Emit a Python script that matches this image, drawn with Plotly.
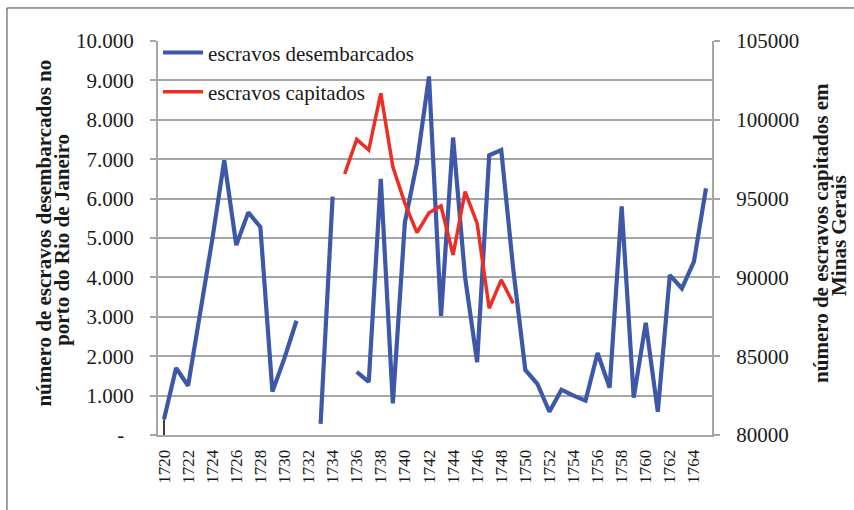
import plotly.graph_objects as go

years = [str(y) for y in range(1720, 1766)]

desembarcados = [400, 1700, 1250, 3100, 4950, 6970, 4820, 5650, 5280, 1100,
                 1950, 2900, None, 280, 6050, None, 1600, 1350, 6500, 800,
                 5400, 6900, 9100, 3020, 7550, 4000, 1850, 7100, 7230, 4200,
                 1650, 1300, 590, 1150, 1000, 870, 2080, 1200, 5800, 950,
                 2850, 590, 4060, 3720, 4400, 6260]

capitados = [None] * 15 + [96560, 98760, 98080, 101680, 97020, 94700, 92840,
                           94100, 94530, 91420, 95440, 93430, 88040, 89840,
                           88350] + [None] * 16

left_tick_vals = [0, 1000, 2000, 3000, 4000, 5000, 6000, 7000, 8000, 9000, 10000]
left_tick_text = ["-\u00a0\u2009", "1.000", "2.000", "3.000", "4.000", "5.000",
                  "6.000", "7.000", "8.000", "9.000", "10.000"]
right_tick_vals = [80000, 85000, 90000, 95000, 100000, 105000]
right_tick_text = ["80000", "85000", "90000", "95000", "100000", "105000"]

name_des = "escravos desembarcados"
name_cap = "escravos capitados"
left_title_lines = ["número de escravos desembarcados no", "porto do Rio de Janeiro"]
right_title_lines = ["número de escravos capitados em", "Minas Gerais"]

FONT = "Liberation Serif"
BLUE = "#3D58A8"
RED = "#EE2D24"
GRID = "#A6A6A6"
TXT = "#1a1a1a"

fig = go.Figure()

# small black drop line at first category
fig.add_trace(go.Scatter(x=[years[0], years[0]], y=[0, desembarcados[0]],
                         mode="lines", line=dict(color="black", width=1.5),
                         showlegend=False, hoverinfo="skip"))

fig.add_trace(go.Scatter(x=years, y=desembarcados, name=name_des, mode="lines",
                         line=dict(color=BLUE, width=4.2), connectgaps=False,
                         legendgroup="a"))
fig.add_trace(go.Scatter(x=years, y=capitados, name=name_cap, mode="lines",
                         line=dict(color=RED, width=3.5), connectgaps=False,
                         yaxis="y2", legendgroup="b"))

annotations = []
for txt, xpos, ypos in zip(left_title_lines, [-0.2065, -0.1735], [0.5127, 0.495]):
    annotations.append(dict(text="<b>" + txt + "</b>", textangle=-90, xref="paper",
                            yref="paper", x=xpos, y=ypos, xanchor="center",
                            yanchor="middle", showarrow=False,
                            font=dict(family=FONT, size=21, color=TXT)))
for txt, xpos, ypos in zip(right_title_lines, [1.1976, 1.228], [0.514, 0.506]):
    annotations.append(dict(text="<b>" + txt + "</b>", textangle=-90, xref="paper",
                            yref="paper", x=xpos, y=ypos, xanchor="center",
                            yanchor="middle", showarrow=False,
                            font=dict(family=FONT, size=21, color=TXT)))

fig.update_layout(
    width=854, height=510,
    margin=dict(l=158, r=142, t=41, b=75, autoexpand=False),
    paper_bgcolor="white", plot_bgcolor="white",
    font=dict(family=FONT, size=21, color=TXT),
    showlegend=True,
    legend=dict(x=0.0, y=1.022, xanchor="left", yanchor="top",
                bgcolor="rgba(0,0,0,0)", font=dict(family=FONT, size=21, color=TXT),
                tracegroupgap=9, itemwidth=40),
    xaxis=dict(type="category", range=[-0.5, len(years) - 0.5],
               tickmode="array", tickvals=years[::2],
               ticktext=years[::2], tickangle=-90, showgrid=False,
               showline=True, linecolor=GRID, linewidth=2, ticks="",
               tickfont=dict(family=FONT, size=17), ticklabelstandoff=6),
    yaxis=dict(range=[0, 10000], tickmode="array", tickvals=left_tick_vals,
               ticktext=left_tick_text, showgrid=True, gridcolor=GRID, gridwidth=2,
               showline=True, linecolor=GRID, linewidth=2, ticks="outside",
               ticklen=6, tickcolor=GRID, tickwidth=2, zeroline=False,
               tickfont=dict(family=FONT, size=21), ticklabelstandoff=12),
    yaxis2=dict(range=[80000, 105000], overlaying="y", side="right",
                tickmode="array", tickvals=right_tick_vals, ticktext=right_tick_text,
                showgrid=False, showline=True, linecolor=GRID, linewidth=2,
                ticks="outside", ticklen=6, tickcolor=GRID, tickwidth=2,
                zeroline=False, tickfont=dict(family=FONT, size=21),
                ticklabelstandoff=12),
    annotations=annotations,
    shapes=[dict(type="rect", xref="paper", yref="paper", x0=-0.2726, y0=-0.25,
                 x1=1.3, y1=1.0838, line=dict(color="#404040", width=1),
                 fillcolor="rgba(0,0,0,0)", layer="below")],
)

fig.write_html("out.html", config={"displayModeBar": False},
               post_script="document.body.style.margin='0px';")
